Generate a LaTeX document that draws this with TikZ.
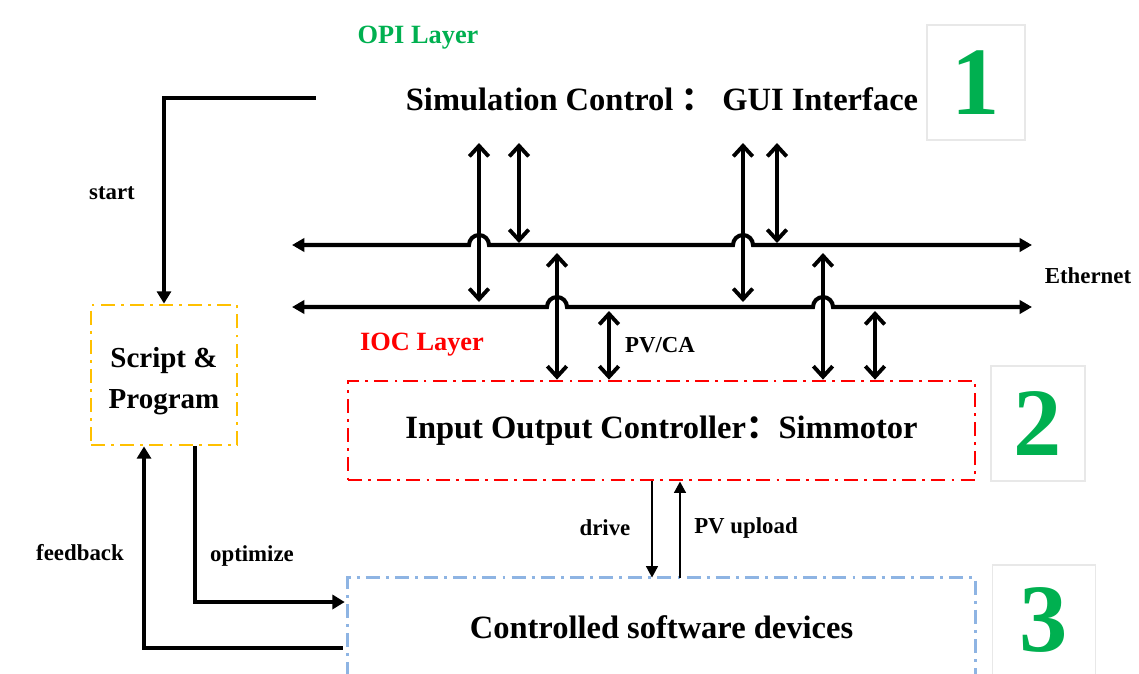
\documentclass[tikz,border=0pt]{standalone}
\usepackage{fontspec}
\setmainfont{Liberation Serif}
\newfontfamily\cjk{Noto Sans CJK SC}
\usetikzlibrary{arrows.meta,positioning}

\definecolor{opigreen}{RGB}{0,176,80}
\definecolor{iocred}{RGB}{255,0,0}
\definecolor{scriptorange}{RGB}{255,192,0}
\definecolor{devblue}{RGB}{142,180,227}
\definecolor{numgray}{RGB}{232,232,232}

\tikzset{
  layerdash/.style={line width=1.6pt, dash pattern=on 8pt off 3.5pt on 1.6pt off 3.5pt},
  biglabel/.style={font=\fontsize{18.5}{22}\selectfont\bfseries},
  smalllabel/.style={font=\fontsize{13}{15}\selectfont\bfseries},
  layerlabel/.style={font=\fontsize{15}{18}\selectfont\bfseries},
  numbox/.style={draw=numgray, line width=0.6pt, text=opigreen, inner sep=0pt,
    font=\fontsize{55}{60}\selectfont\bfseries},
  bus/.style={line width=2.3pt, {Triangle[length=7pt,width=7.5pt]}-{Triangle[length=7pt,width=7.5pt]}},
  link/.style={line width=2.2pt, {Straight Barb[length=6pt,width=11pt]}-{Straight Barb[length=6pt,width=11pt]}},
  flow/.style={line width=2.3pt, -{Triangle[length=7pt,width=8pt]}},
  thinflow/.style={line width=1.5pt, -{Triangle[length=6.5pt,width=6.5pt]}},
}

\begin{document}
\begin{tikzpicture}[x=0.02cm,y=-0.02cm]
  \useasboundingbox (0,0) rectangle (1139,673);

  % OPI
  \node[layerlabel,text=opigreen] (opi) at (418,38) {OPI Layer};
  \node[biglabel] (gui) at (662,99) {Simulation Control {\cjk ：} GUI Interface};
  \node[numbox,minimum width=1.96cm,minimum height=2.3cm] (one) at (976,82.5) {1};

  % Ethernet
  \coordinate (busL1) at (292,245); \coordinate (busR1) at (1032,245);
  \coordinate (busL2) at (292,307); \coordinate (busR2) at (1032,307);
  \draw[bus] (busL1) -- (469,245) arc[start angle=180,end angle=0,radius=0.2cm]
    -- (733,245) arc[start angle=180,end angle=0,radius=0.2cm] -- (busR1);
  \draw[bus] (busL2) -- (547,307) arc[start angle=180,end angle=0,radius=0.2cm]
    -- (813,307) arc[start angle=180,end angle=0,radius=0.2cm] -- (busR2);
  \node[smalllabel] (eth) at (1088,276) {Ethernet};

  % IOC
  \node[layerlabel,text=iocred] (ioclabel) at (422,345) {IOC Layer};
  \node[biglabel,draw=iocred,layerdash,minimum width=12.54cm,minimum height=1.98cm]
    (ioc) at (661.5,430.5) {Input Output Controller{\cjk ：}Simmotor};
  \node[numbox,minimum width=1.88cm,minimum height=2.3cm] (two) at (1038,423.5) {2};

  \foreach \x/\y in {479/302,519/243,743/302,777/243}
    \draw[link] (\x,143) -- (\x,\y);
  \foreach \x/\y in {557/253,609/311,823/253,875/311}
    \draw[link] (\x,\y) -- (\x,0 |- ioc.north);
  \node[smalllabel] (pvca) at (660,345) {PV/CA};

  % devices
  \node[biglabel,minimum width=12.54cm,minimum height=1.96cm] (dev) at (661.5,627)
    {Controlled software devices};
  \draw[layerdash,draw=devblue] (dev.south west) -- (dev.north west)
    -- (dev.north east) -- (dev.south east);
  \node[numbox,minimum width=2.06cm,minimum height=2.2cm] (three) at (1044,620) {3};

  \draw[thinflow] ([xshift=-0.19cm]ioc.south) -- ([xshift=-0.19cm]dev.north);
  \draw[thinflow] ([xshift=0.37cm]dev.north) -- ([xshift=0.37cm]ioc.south);
  \node[smalllabel] (drive) at (605,528) {drive};
  \node[smalllabel] (upload) at (746,528) {PV upload};

  % script
  \node[draw=scriptorange,layerdash,minimum width=2.92cm,minimum height=2.8cm]
    (script) at (164,375) {};
  \node[align=center,font=\fontsize{16.5}{23}\selectfont\bfseries]
    (scripttext) at (164,381) {Script \&\\Program};
  \coordinate (startfrom) at (316,98);
  \draw[flow] (startfrom) -| (script.north);
  \draw[flow] ([xshift=0.62cm]script.south) |- ([yshift=0.5cm,xshift=-0.06cm]dev.west);
  \draw[flow] ([yshift=-0.42cm,xshift=-0.1cm]dev.west) -| ([xshift=-0.4cm]script.south);
  \node[smalllabel] (start) at (112,193) {start};
  \node[smalllabel] (optimize) at (252,556) {optimize};
  \node[smalllabel] (feedback) at (80,553) {feedback};
\end{tikzpicture}
\end{document}
